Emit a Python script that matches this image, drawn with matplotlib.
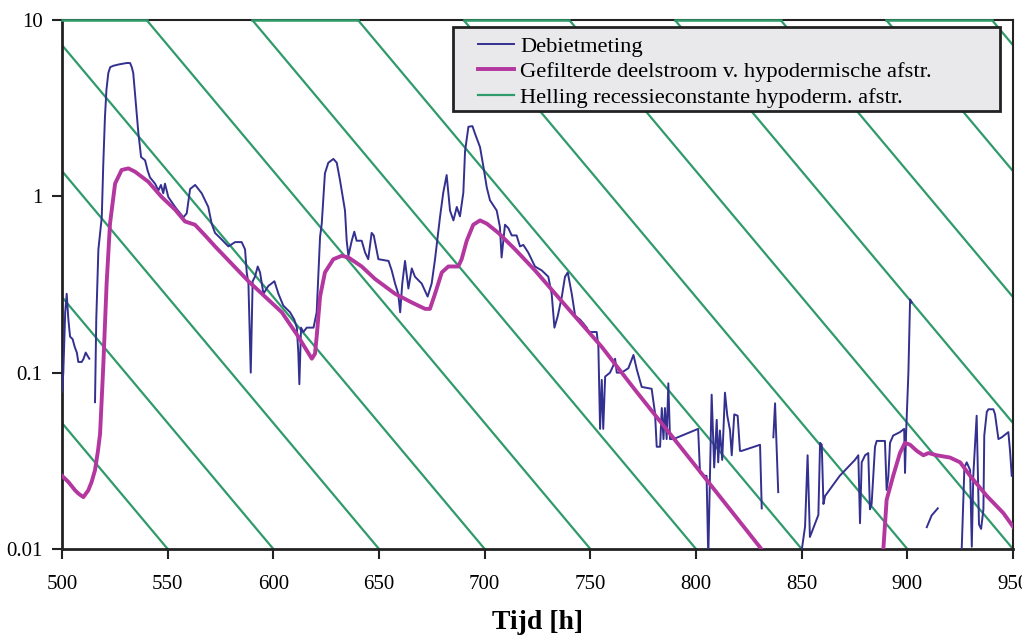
import numpy as np
import matplotlib
matplotlib.use("Agg")
import matplotlib.pyplot as plt
from matplotlib.patches import Rectangle

plt.rcParams['font.family'] = ['Liberation Serif', 'DejaVu Serif']

# Debietmeting (measured discharge), NaN = gap in the record
debiet_t = [500.0, 500.6, 501.5, 502.2, 503.0, 503.8, 505.0, 506.0, 507.0, 507.7, 509.3, 510.2, 511.2, 512.0, 512.9,
            np.nan,
            515.6, 516.2, 517.2, 518.8, 519.5, 520.3, 521.0, 521.9, 522.8, 524.3, 527.0, 530.6, 532.2, 533.0, 533.7,
            535.0, 536.1, 537.4, 539.3, 540.5, 541.6, 544.0, 545.6, 546.8, 547.9, 548.7, 550.3, 553.5, 557.4, 559.0,
            560.6, 563.0, 566.1, 569.2, 570.8, 572.4, 575.5, 578.7, 581.9, 585.0, 586.6, 587.4, 588.2, 589.3, 590.2,
            591.3, 592.6, 593.7, 595.3, 597.6, 600.5, 602.4, 604.7, 607.9, 609.9, 611.1, 611.8, 612.3, 613.1, 614.2,
            615.8, 619.0, 620.5, 622.1, 622.9, 624.4, 626.0, 628.4, 630.0, 631.5, 633.9, 634.7, 635.5, 637.1, 638.3,
            639.4, 641.8, 643.4, 644.9, 646.5, 647.5, 649.7, 654.5, 656.0, 657.6, 659.1, 660.0, 661.0, 662.3, 663.9,
            665.5, 667.0, 670.2, 673.0, 674.9, 676.5, 678.9, 680.4, 682.0, 683.6, 685.2, 686.8, 688.3, 689.9, 690.7,
            692.3, 694.2, 695.4, 697.8, 699.4, 701.0, 702.5, 705.7, 707.2, 708.0, 709.6, 711.2, 712.8, 715.1, 716.7,
            718.3, 720.6, 723.8, 727.0, 730.1, 731.7, 733.0, 734.6, 736.5, 738.0, 739.3, 741.2, 742.8, 745.1, 746.7,
            748.3, 749.0, 753.0, 753.8, 754.6, 755.4, 756.1, 757.0, 759.3, 760.9, 761.7, 762.5, 764.8, 768.0, 770.4,
            772.0, 774.3, 779.0, 780.6, 781.4, 783.0, 783.8, 784.6, 785.3, 786.1, 786.9, 787.7, 789.3, 801.0, 801.9,
            803.5, 805.0, 805.8, 806.6, 807.4, 808.6, 809.8, 810.5, 811.3, 812.4, 813.7, 814.8, 816.1, 816.9, 818.1,
            819.7, 820.8, 821.6, 830.3, 831.1,
            np.nan,
            836.6, 837.4, 838.9,
            np.nan,
            850.0, 851.6, 852.8, 853.9, 857.9, 858.7, 859.5, 860.3, 861.1, 868.0, 875.2, 876.8, 877.6, 878.4, 880.0,
            881.5, 882.3, 883.1, 884.7, 885.5, 889.4, 890.2, 891.0, 891.8, 893.3, 896.5, 898.5, 898.9, 899.4, 900.5,
            901.3, 902.1,
            np.nan,
            909.2, 911.5, 914.4,
            np.nan,
            925.7, 927.0, 928.1, 929.7, 930.5, 931.2, 932.8, 933.9, 934.9, 936.0, 936.4, 937.6, 938.4, 940.7, 941.5,
            943.1, 944.7, 947.8, 948.6, 949.4]
debiet_q = [0.078, 0.10, 0.22, 0.28, 0.2, 0.16, 0.155, 0.14, 0.13, 0.115, 0.115, 0.12, 0.13, 0.125, 0.12,
            np.nan,
            0.068, 0.2, 0.5, 0.76, 1.5, 2.8, 4.0, 5.0, 5.4, 5.5, 5.6, 5.7, 5.7, 5.4, 5.0,
            3.3, 2.3, 1.67, 1.6, 1.4, 1.28, 1.18, 1.08, 1.16, 1.04, 1.18, 0.99, 0.87, 0.76, 0.8,
            1.1, 1.16, 1.04, 0.87, 0.7, 0.62, 0.57, 0.52, 0.55, 0.55, 0.5, 0.37, 0.32, 0.1, 0.33,
            0.35, 0.4, 0.37, 0.28, 0.31, 0.33, 0.28, 0.24, 0.22, 0.2, 0.18, 0.13, 0.086, 0.18, 0.17,
            0.18, 0.18, 0.22, 0.59, 0.7, 1.35, 1.55, 1.63, 1.55, 1.24, 0.83, 0.56, 0.46, 0.56, 0.63,
            0.56, 0.56, 0.48, 0.44, 0.62, 0.6, 0.44, 0.43, 0.38, 0.32, 0.28, 0.22, 0.32, 0.43, 0.3,
            0.39, 0.35, 0.32, 0.27, 0.32, 0.44, 0.77, 1.05, 1.32, 0.83, 0.73, 0.87, 0.77, 1.05, 1.8,
            2.48, 2.5, 2.27, 1.9, 1.47, 1.12, 0.95, 0.83, 0.67, 0.45, 0.69, 0.66, 0.6, 0.6, 0.52,
            0.53, 0.48, 0.4, 0.38, 0.35, 0.28, 0.18, 0.21, 0.27, 0.35, 0.37, 0.28, 0.21, 0.2, 0.19,
            0.18, 0.17, 0.17, 0.14, 0.048, 0.091, 0.048, 0.095, 0.1, 0.11, 0.12, 0.1, 0.1, 0.106, 0.126,
            0.104, 0.083, 0.081, 0.059, 0.038, 0.038, 0.063, 0.042, 0.063, 0.042, 0.087, 0.042, 0.042, 0.048, 0.027,
            0.026, 0.026, 0.009, 0.026, 0.075, 0.029, 0.054, 0.031, 0.047, 0.032, 0.077, 0.057, 0.047, 0.034, 0.058,
            0.057, 0.036, 0.036, 0.039, 0.017,
            np.nan,
            0.043, 0.067, 0.021,
            np.nan,
            0.0098, 0.0134, 0.034, 0.0117, 0.0156, 0.04, 0.039, 0.018, 0.02, 0.026, 0.032, 0.034, 0.014, 0.031, 0.034,
            0.035, 0.0168, 0.018, 0.038, 0.041, 0.041, 0.0216, 0.0256, 0.04, 0.044, 0.046, 0.048, 0.027, 0.045, 0.1,
            0.26, 0.25,
            np.nan,
            0.0133, 0.0155, 0.017,
            np.nan,
            0.0098, 0.029, 0.031, 0.028, 0.0103, 0.026, 0.057, 0.0138, 0.013, 0.0168, 0.044, 0.06, 0.062, 0.062, 0.058,
            0.042, 0.043, 0.046, 0.036, 0.026]

# Gefilterde deelstroom (filtered hypodermic component)
filt_t = [500.0, 503.0, 506.2, 508.0, 510.1, 512.4, 514.0, 515.6, 517.0, 518.0, 519.5, 521.1, 522.7, 525.1, 528.2,
          531.4, 534.5, 540.8, 547.2, 553.5, 558.2, 562.9, 567.7, 572.4, 588.2, 604.0, 611.8, 618.2, 619.7, 620.5,
          622.1, 624.4, 628.4, 632.4, 635.5, 641.8, 648.1, 657.6, 665.5, 671.8, 674.1, 676.5, 679.7, 682.8, 687.5,
          689.1, 691.5, 694.6, 697.8, 701.0, 706.5, 714.4, 723.8, 739.6, 755.4, 771.1, 787.7, 803.5, 819.3, 831.5,
          np.nan,
          888.6, 890.2, 893.3, 896.5, 898.9, 901.3, 904.5, 907.6, 910.0, 913.9, 920.2, 925.0, 929.7, 937.6, 945.4,
          950.0]
filt_q = [0.026, 0.024, 0.0215, 0.0205, 0.0197, 0.0215, 0.024, 0.028, 0.036, 0.045, 0.108, 0.32, 0.7, 1.18, 1.41,
          1.44, 1.38, 1.21, 0.99, 0.84, 0.72, 0.69, 0.6, 0.52, 0.33, 0.22, 0.16, 0.12, 0.128, 0.16,
          0.27, 0.37, 0.44, 0.46, 0.45, 0.4, 0.34, 0.28, 0.25, 0.23, 0.23, 0.28, 0.37, 0.4, 0.4,
          0.44, 0.56, 0.69, 0.73, 0.7, 0.62, 0.5, 0.38, 0.23, 0.14, 0.08, 0.045, 0.026, 0.015, 0.0098,
          np.nan,
          0.0098, 0.019, 0.026, 0.035, 0.040, 0.039, 0.036, 0.034, 0.035, 0.034, 0.033, 0.031, 0.026, 0.02, 0.016,
          0.0134]

# recession lines: constant k [h], times where each line reaches 0.01
reces_k = 30.4
reces_t0 = [550, 600, 650, 700, 750, 800, 850, 900, 950, 1000, 1050, 1100, 1150]
# lines that are joined along the top of the chart (pairs t0, t0 + 50)
joined_t0 = [700, 800, 900, 1000, 1100]

fig = plt.figure(figsize=(10.22, 6.38), dpi=100)
ax = fig.add_axes([0.0607, 0.1395, 0.9305, 0.8292])

green = '#2f9a6a'
for i, t0 in enumerate(reces_t0):
    t = np.linspace(t0 - 320, t0, 300)
    q = 0.01 * np.exp((t0 - t) / reces_k)
    ax.plot(t, q, color=green, lw=1.6, zorder=2,
            label='Helling recessieconstante hypoderm. afstr.' if i == 0 else None)

# segments along the upper border, drawn over the frame
t_top = reces_k * np.log(1000)
for t0 in joined_t0:
    a = max(t0 - t_top, 500)
    b = min(t0 + 50 - t_top, 950)
    ax.plot([a, b], [10, 10], color=green, lw=1.8, zorder=3, clip_on=False)

ax.plot(debiet_t, debiet_q, color='#343090', lw=1.4, zorder=4, label='Debietmeting')
ax.plot(filt_t, filt_q, color='#b4369f', lw=2.8, zorder=5,
        label='Gefilterde deelstroom v. hypodermische afstr.')

ax.set_yscale('log')
ax.set_xlim(500, 950)
ax.set_ylim(0.01, 10)
ax.set_xticks(np.arange(500, 951, 50))
ax.set_yticks([0.01, 0.1, 1, 10])
ax.set_yticklabels(['0.01', '0.1', '1', '10'])
ax.yaxis.set_minor_locator(matplotlib.ticker.NullLocator())
ax.tick_params(direction='out', length=7, width=1.5, labelsize=15, color='#222222')
ax.tick_params(axis='x', pad=12)
ax.tick_params(axis='y', pad=7)

for side in ['left', 'bottom']:
    ax.spines[side].set_linewidth(2)
for side in ['top', 'right']:
    ax.spines[side].set_linewidth(1.5)
for s in ax.spines.values():
    s.set_color('#222222')

ax.set_xlabel('Tijd [h]', fontsize=20, fontweight='bold', labelpad=11)

# legend box drawn by hand, entries without frame inside it
box = Rectangle((0.411, 0.827), 0.575, 0.159, transform=ax.transAxes, facecolor='#e9e9ec',
                edgecolor='#222222', lw=2, zorder=6)
ax.add_patch(box)
handles, labels = ax.get_legend_handles_labels()
order = [1, 2, 0]
leg = ax.legend([handles[i] for i in order], [labels[i] for i in order],
                loc='upper left', bbox_to_anchor=(0.437, 0.970), frameon=False,
                fontsize=16.2, handlelength=1.6, handletextpad=0.3, borderpad=0.0,
                labelspacing=0.22, borderaxespad=0)
leg.set_zorder(7)

fig.savefig('out.png', dpi=100)
